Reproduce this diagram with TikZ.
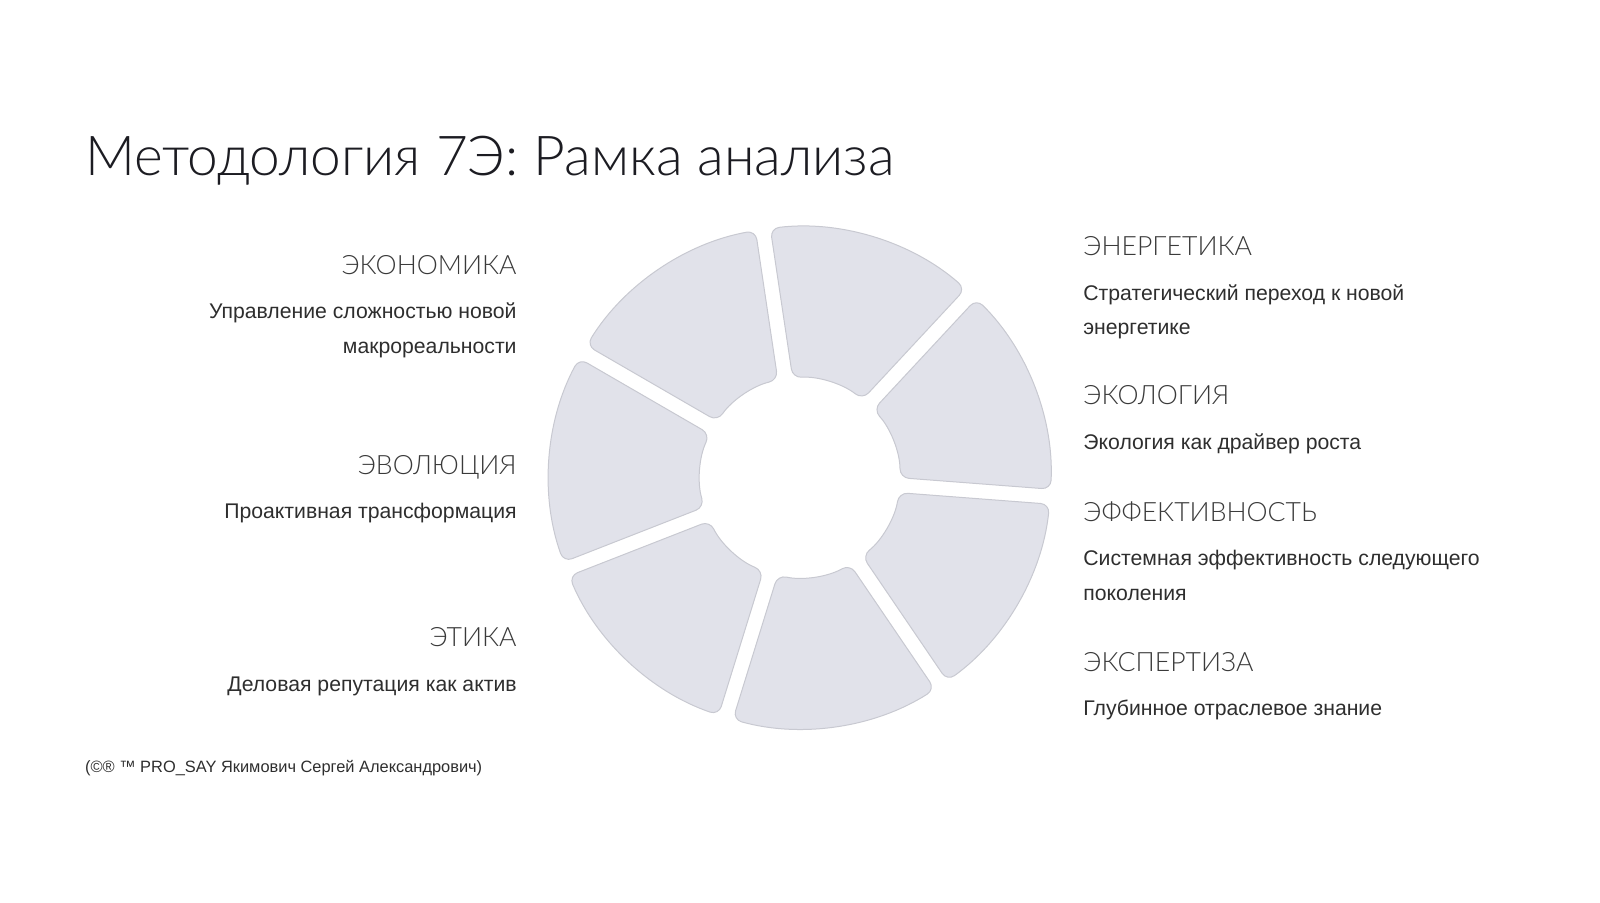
\documentclass[tikz,border=0pt]{standalone}
\usepackage{fontspec}
\setmainfont{Liberation Sans}
\newfontfamily\headfont{Lato}[UprightFont={* Light}]
\usetikzlibrary{positioning}
\definecolor{segfill}{HTML}{E1E2EA}
\definecolor{segline}{HTML}{C8C9D1}
\definecolor{titlecol}{HTML}{1C1C22}
\definecolor{headcol}{HTML}{3A3A3A}
\definecolor{bodycol}{HTML}{2E2E2E}
\tikzset{
  seg/.style={fill=segfill,draw=segline,line width=0.5pt,rounded corners=4.5pt},
  title/.style={font=\headfont\fontsize{27.5}{32}\selectfont,text=titlecol,inner sep=0pt},
  head/.style={font=\headfont\fontsize{13.3}{16}\selectfont,text=headcol,inner sep=0pt},
  body/.style={font=\fontsize{10.6}{13}\selectfont,text=bodycol,inner sep=0pt},
  foot/.style={font=\fontsize{8.2}{10}\selectfont,text=bodycol,inner sep=0pt}
}
\begin{document}
\begin{tikzpicture}[x=0.5pt,y=0.5pt]
\useasboundingbox (-800,-424.4) rectangle (800,477.6);
% wheel of seven segments
\def\rout{251}
\def\rin{100}
\foreach \k in {0,...,6}{
  \pgfmathsetmacro\ahi{98.5-\k*360/7}
  \pgfmathsetmacro\alo{\ahi-360/7}
  \draw[seg] ({\alo+1.71}:\rout) arc[start angle=\alo+1.71,end angle=\ahi-1.71,radius=\rout]
    -- ({\ahi-4.3}:\rin) arc[start angle=\ahi-4.3,end angle=\alo+4.3,radius=\rin] -- cycle;
}
% title
\node[title,anchor=base west] (title) at (-715.3,302.1) {Методология 7Э: Рамка анализа};
% left column
\node[head,anchor=base east] (econ) at (-283,203.3) {ЭКОНОМИКА};
\node[body,anchor=base east] (econa) at (-283,158.9) {Управление сложностью новой};
\node[body,anchor=base east] (econb) at (-283,124.2) {макрореальности};
\node[head,anchor=base east] (evol) at (-283,3.3) {ЭВОЛЮЦИЯ};
\node[body,anchor=base east] (evola) at (-283,-41.1) {Проактивная трансформация};
\node[head,anchor=base east] (ethic) at (-283,-169.2) {ЭТИКА};
\node[body,anchor=base east] (ethica) at (-283,-213.6) {Деловая репутация как актив};
% right column
\node[head,anchor=base west] (energ) at (283,221.7) {ЭНЕРГЕТИКА};
\node[body,anchor=base west] (energa) at (283,177.2) {Стратегический переход к новой};
\node[body,anchor=base west] (energb) at (283,143.5) {энергетике};
\node[head,anchor=base west] (ecol) at (283,72.7) {ЭКОЛОГИЯ};
\node[body,anchor=base west] (ecola) at (283,28.2) {Экология как драйвер роста};
\node[head,anchor=base west] (effic) at (283,-43.6) {ЭФФЕКТИВНОСТЬ};
\node[body,anchor=base west] (effica) at (283,-88.1) {Системная эффективность следующего};
\node[body,anchor=base west] (efficb) at (283,-122.8) {поколения};
\node[head,anchor=base west] (expert) at (283,-193.6) {ЭКСПЕРТИЗА};
\node[body,anchor=base west] (experta) at (283,-238.1) {Глубинное отраслевое знание};
% footer
\node[foot,anchor=base west] (copy) at (-715.3,-294.4) {(©® ™ PRO\_SAY Якимович Сергей Александрович)};
\end{tikzpicture}
\end{document}
